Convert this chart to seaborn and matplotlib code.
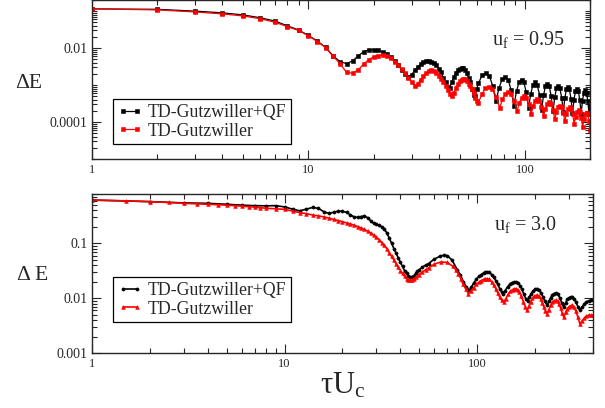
import numpy as np
import pandas as pd
import matplotlib
matplotlib.use('Agg')
import matplotlib.pyplot as plt
import seaborn as sns
from matplotlib.ticker import FixedLocator, FixedFormatter, LogLocator, NullFormatter

# ---- данные ----
# верхняя панель, u_f = 0.95
tau_top_qf = [1, 2, 3, 4, 5, 6, 7, 8, 9, 10, 11, 12, 13, 14, 15, 16, 17, 18, 19, 20,
              21, 22, 23, 24, 25, 26, 27, 28, 29, 30, 31, 32, 33, 34, 35, 36, 37, 38, 39, 40,
              41, 42, 43, 44, 45, 46, 47, 48, 49, 50, 51, 52, 53, 54, 55, 56, 57, 58, 59, 60,
              61, 63.5, 66, 68.5, 71, 73.5, 76, 78.5, 81, 83.7, 86.3, 89, 91.5, 94, 96.5,
              99, 101.5, 104, 106.5, 109, 111.5, 114, 117, 119.5, 122, 124.5, 127, 129.7,
              132.3, 135, 137.5, 140, 142.5, 145, 148, 150.5, 153, 155.5, 158, 160.7, 163.3,
              166, 168.7, 171.3, 174, 176.7, 179.3, 182, 184.7, 187.3, 190, 192.7, 195.3,
              198, 200]
dE_top_qf = [0.115, 0.112, 0.100, 0.090, 0.079, 0.066, 0.054, 0.040, 0.031, 0.022,
             0.0155, 0.0105, 0.0062, 0.0043, 0.0038, 0.0045, 0.0062, 0.0080, 0.0089, 0.0091,
             0.0087, 0.0079, 0.0071, 0.0057, 0.0045, 0.0034, 0.0026, 0.0020, 0.00167, 0.0019,
             0.0025, 0.0031, 0.0037, 0.0041, 0.0044, 0.0044, 0.0043, 0.0039, 0.0034, 0.0028,
             0.0022, 0.0016, 0.0012, 0.0009, 0.00085, 0.0012, 0.0017, 0.0021, 0.0025, 0.0028,
             0.0029, 0.0029, 0.0026, 0.0021, 0.0016, 0.0012, 0.0008, 0.00055, 0.0005, 0.0008,
             0.00111, 0.00185, 0.00214, 0.00179, 0.00096, 0.000365, 0.00084, 0.00144, 0.00167,
             0.0014, 0.00075, 0.00028, 0.00068, 0.0012, 0.00141,
             0.00118, 0.00064, 0.000242, 0.00058, 0.00102, 0.00119,
             0.001, 0.00055, 0.000218, 0.00053, 0.00094, 0.0011,
             0.00092, 0.0005, 0.000196, 0.00047, 0.00083, 0.00097,
             0.00082, 0.00046, 0.000184, 0.00044, 0.00076, 0.00089,
             0.00076, 0.00043, 0.000177, 0.0004, 0.00068, 0.00079,
             0.00068, 0.0004, 0.00017, 0.00038, 0.00062, 0.00072,
             0.00062, 0.00037, 0.000165, 0.00028]

tau_top_gw = [1, 2, 3, 4, 5, 6, 7, 8, 9, 10, 11, 12, 13, 14, 15, 16, 17, 18, 19, 20,
              21, 22, 23, 24, 25, 26, 27, 28, 29, 30, 31, 32, 33, 34, 35, 36, 37, 38, 39, 40,
              41, 42, 43, 44, 45, 46, 47, 48, 49, 50, 51, 52, 53, 54, 55, 56, 57, 58, 59, 60,
              61, 63.3, 65.7, 68, 70.8, 73.7, 76.5, 78.8, 81.2, 83.5, 86.3, 89.2, 92, 94.3,
              96.7, 99, 101.7, 104.3, 107, 109.3, 111.7, 114, 116.7, 119.3, 122, 124.5, 127,
              129.5, 132.2, 134.8, 137.5, 140, 142.5, 145, 147.7, 150.3, 153, 155.7, 158.3,
              161, 163.7, 166.3, 169, 171.7, 174.3, 177, 179.7, 182.3, 185, 187.7, 190.3,
              193, 195.3, 197.7, 200]
dE_top_gw = [0.115, 0.108, 0.095, 0.084, 0.074, 0.062, 0.050, 0.038, 0.030, 0.0215,
             0.015, 0.0103, 0.006, 0.0038, 0.0022, 0.0021, 0.0026, 0.0037, 0.0049, 0.0058,
             0.0063, 0.0064, 0.0061, 0.0054, 0.0043, 0.0034, 0.0027, 0.0021, 0.0016, 0.0012,
             0.00093, 0.0011, 0.0014, 0.0018, 0.0021, 0.0024, 0.0025, 0.0024, 0.0021, 0.0018,
             0.0015, 0.0012, 0.00095, 0.00075, 0.00058, 0.0005, 0.00062, 0.00085, 0.00106, 0.00125,
             0.0014, 0.00147, 0.00146, 0.0013, 0.0011, 0.00095, 0.0008, 0.00062, 0.00045, 0.00036,
             0.00033, 0.00057, 0.00081, 0.00089, 0.00078, 0.00049, 0.00024, 0.00041, 0.00058,
             0.00064, 0.00057, 0.00038, 0.000196, 0.00033, 0.00045, 0.0005, 0.00045, 0.0003,
             0.00016, 0.00027, 0.00037, 0.00041, 0.00037, 0.00026, 0.000144, 0.00023, 0.00031,
             0.00034, 0.00031, 0.00021, 0.00012, 0.00019, 0.00026, 0.00028, 0.00025, 0.00018,
             0.000105, 0.00017, 0.00023, 0.00025, 0.00023, 0.00016, 0.00009, 0.00014, 0.00019,
             0.00021, 0.00019, 0.00013, 0.000075, 0.00012, 0.000165, 0.00018, 0.00016, 0.00011,
             0.00006]

# нижняя панель, u_f = 3.0
tau_bot_qf = [1, 2, 3, 4, 5, 6, 7, 8, 9, 10, 11, 12, 13, 14, 15, 16, 17, 18, 19, 20,
              21, 22, 23, 24, 25, 26, 27, 28, 29, 30, 31, 32, 33, 34, 35, 36, 37, 38, 39, 40,
              41, 42, 43, 44, 45, 46, 47, 48, 49, 50,
              52, 54, 56, 60, 64, 67, 70, 74, 79, 82, 85, 88, 91, 93.5, 96, 99, 102, 105,
              108, 110.5, 113, 116, 119, 122, 125, 128, 131, 134, 137, 140, 144, 148, 152,
              155.5, 159, 163, 167, 171, 175, 179, 183, 187, 191, 195, 200, 205, 210, 215,
              220, 225, 231, 236, 241, 246, 251, 257, 263, 269, 275, 282, 288, 294, 300,
              306, 312, 319, 326, 334, 342, 350, 360, 370, 380, 390, 400]
dE_bot_qf = [0.62, 0.58, 0.55, 0.54, 0.52, 0.50, 0.49, 0.487, 0.49, 0.465,
             0.424, 0.394, 0.424, 0.455, 0.436, 0.38, 0.353, 0.37, 0.39, 0.385,
             0.37, 0.33, 0.306, 0.299, 0.31, 0.32, 0.295, 0.26, 0.232, 0.222,
             0.214, 0.2, 0.183, 0.155, 0.125, 0.1, 0.08, 0.066, 0.054, 0.045,
             0.038, 0.032, 0.0283, 0.026, 0.0245, 0.0245, 0.026, 0.0283, 0.031, 0.033,
             0.0373, 0.04, 0.043, 0.052, 0.058, 0.061, 0.06, 0.05, 0.033, 0.0263,
             0.02, 0.016, 0.014, 0.016, 0.019, 0.022, 0.025, 0.027, 0.029, 0.0298,
             0.0303, 0.0295, 0.027, 0.024, 0.021, 0.018, 0.015, 0.0132, 0.0122, 0.0138,
             0.0162, 0.018, 0.0193, 0.0198, 0.0199, 0.0188, 0.017, 0.0145, 0.0118, 0.0098,
             0.0089, 0.0105, 0.0122, 0.0135, 0.0146, 0.015, 0.0142, 0.0125, 0.0105, 0.0088,
             0.0074, 0.0088, 0.0102, 0.0115, 0.0122, 0.0125, 0.0117, 0.0101, 0.0083, 0.0068,
             0.0082, 0.0095, 0.0102, 0.0106, 0.0106, 0.0098, 0.0085, 0.007, 0.006, 0.0068,
             0.0078, 0.0086, 0.009, 0.0092, 0.0092]

tau_bot_gw = [1, 1.5, 2, 2.5, 3, 3.5, 4, 4.5, 5, 5.5, 6, 6.5, 7, 7.5, 8, 9, 10, 11, 12,
              13, 14, 15, 16, 17, 18, 19, 20, 21, 22, 23, 24, 25, 26, 27, 28, 29, 30, 31, 32,
              33, 34, 35, 36, 37, 38, 39, 40, 41, 42, 43, 44, 45, 46, 47, 48,
              50, 52, 54, 56, 60, 65, 70, 75, 77.5, 80, 82.5, 85, 87.5, 90, 93, 96, 99, 102,
              105, 108, 110.5, 113, 116, 119, 122, 125, 128, 131, 134.5, 138, 141, 145, 149,
              153, 156, 159, 162.5, 166, 170, 174, 178, 182, 186, 190, 194, 198, 201.5, 205,
              209, 213.5, 218, 222, 226.5, 231, 236, 241, 246, 251, 257, 262, 267, 272, 277,
              282, 288, 294, 300, 306, 312, 319, 326, 334, 342, 350, 360, 370, 380, 390, 400]
dE_bot_gw = [0.62, 0.60, 0.58, 0.56, 0.54, 0.53, 0.52, 0.51, 0.50, 0.49, 0.48, 0.47, 0.46,
             0.45, 0.44, 0.43, 0.42, 0.39, 0.365, 0.35, 0.33, 0.32, 0.305, 0.29, 0.275,
             0.262, 0.25, 0.238, 0.227, 0.215, 0.203, 0.192, 0.18, 0.168, 0.155, 0.142, 0.13,
             0.118, 0.104, 0.092, 0.08, 0.068, 0.058, 0.05, 0.043, 0.037, 0.032, 0.0285, 0.025,
             0.0228, 0.0218, 0.0213, 0.0215, 0.0225, 0.024,
             0.027, 0.0303, 0.033, 0.0358, 0.042, 0.046, 0.045, 0.038, 0.033, 0.028,
             0.0225, 0.018, 0.0145, 0.0122, 0.0135, 0.0155, 0.018, 0.0195, 0.021, 0.022,
             0.0226, 0.0229, 0.0222, 0.02, 0.0175, 0.015, 0.0125, 0.0105, 0.0092, 0.0086,
             0.0098, 0.0118, 0.0133, 0.0144, 0.0149, 0.015, 0.0143, 0.0128, 0.0108, 0.0087,
             0.007, 0.006, 0.0072, 0.0087, 0.0099, 0.0108, 0.0112, 0.0114, 0.0109, 0.0098,
             0.0083, 0.007, 0.0059, 0.0052, 0.0062, 0.0074, 0.0084, 0.009, 0.0092, 0.0088,
             0.0078, 0.0065, 0.0053, 0.0045, 0.0055, 0.0064, 0.007, 0.0073, 0.0074, 0.0068,
             0.0058, 0.0045, 0.0034, 0.0038, 0.0043, 0.0047, 0.0049, 0.0049, 0.0049]

label_qf = 'TD-Gutzwiller+QF'
label_gw = 'TD-Gutzwiller'

for t, v in [(tau_top_qf, dE_top_qf), (tau_top_gw, dE_top_gw),
             (tau_bot_qf, dE_bot_qf), (tau_bot_gw, dE_bot_gw)]:
    assert len(t) == len(v), (len(t), len(v))

# ---- оформление ----
sns.set_style('ticks', {'xtick.direction': 'in', 'ytick.direction': 'in'})
plt.rcParams['font.family'] = ['Liberation Serif', 'DejaVu Serif']
plt.rcParams['axes.linewidth'] = 1.0

fig = plt.figure(figsize=(6.05, 4.08), dpi=100)
ax1 = fig.add_axes([92 / 605, 1 - 159 / 408, 498 / 605, 159 / 408])
ax2 = fig.add_axes([92 / 605, 1 - 353 / 408, 501 / 605, 159 / 408])


def draw(ax, tau, val, color, marker, ms, lw, label):
    d = pd.DataFrame({'tau': tau, 'dE': val})
    sns.lineplot(data=d, x='tau', y='dE', ax=ax, color=color, marker=marker,
                 markersize=ms, markeredgecolor=color, markeredgewidth=0.4,
                 linewidth=lw, sort=False, estimator=None, label=label)


draw(ax1, tau_top_qf, dE_top_qf, 'black', 's', 2.2, 0.9, label_qf)
draw(ax1, tau_top_gw, dE_top_gw, 'red', 's', 2.2, 0.9, label_gw)
draw(ax2, tau_bot_qf, dE_bot_qf, 'black', 'o', 2.3, 1.2, label_qf)
draw(ax2, tau_bot_gw, dE_bot_gw, 'red', '^', 2.7, 1.2, label_gw)

for ax in (ax1, ax2):
    ax.set_xscale('log')
    ax.set_yscale('log')
    ax.set_xlabel('')
    ax.set_ylabel('')
    ax.xaxis.set_major_locator(FixedLocator([1, 10, 100]))
    ax.xaxis.set_major_formatter(FixedFormatter(['1', '10', '100']))
    ax.xaxis.set_minor_locator(LogLocator(base=10, subs=np.arange(2, 10), numticks=20))
    ax.xaxis.set_minor_formatter(NullFormatter())
    ax.yaxis.set_minor_locator(LogLocator(base=10, subs=np.arange(1, 10), numticks=20))
    ax.yaxis.set_minor_formatter(NullFormatter())
    ax.tick_params(which='both', direction='in', top=True, right=True, width=0.8)
    ax.tick_params(which='major', length=6.5)
    ax.tick_params(which='minor', length=3.3)
    ax.tick_params(axis='x', labelsize=9)
    ax.tick_params(axis='y', labelsize=10, pad=3)
    leg = ax.legend(loc='lower left', fontsize=12.8, frameon=True, fancybox=False,
                    edgecolor='black', framealpha=1, numpoints=2, handlelength=1.4,
                    handletextpad=0.3, borderpad=0.25, labelspacing=0.1, borderaxespad=0)
    leg.get_frame().set_linewidth(0.9)

ax1.set_xlim(1, 200)
ax1.set_ylim(1e-5, 0.2)
ax1.yaxis.set_major_locator(FixedLocator([1e-4, 1e-2]))
ax1.yaxis.set_major_formatter(FixedFormatter(['0.0001', '0.01']))
ax1.get_legend().set_bbox_to_anchor((0.042, 0.094), transform=ax1.transAxes)

ax2.set_xlim(1, 400)
ax2.set_ylim(1e-3, 0.8)
ax2.yaxis.set_major_locator(FixedLocator([1e-3, 1e-2, 1e-1]))
ax2.yaxis.set_major_formatter(FixedFormatter(['0.001', '0.01', '0.1']))
ax2.get_legend().set_bbox_to_anchor((0.042, 0.195), transform=ax2.transAxes)

ax1.text(0.95, 0.717, r'$\mathregular{u_f}$ = 0.95', transform=ax1.transAxes,
         ha='right', va='baseline', fontsize=14.5)
ax2.text(0.928, 0.774, r'$\mathregular{u_f}$ = 3.0', transform=ax2.transAxes,
         ha='right', va='baseline', fontsize=14.5)

fig.text(29 / 605, 1 - 83 / 408, 'ΔE', ha='center', va='center', fontsize=15.5)
fig.text(33 / 605, 1 - 275 / 408, 'Δ E', ha='center', va='center', fontsize=15.5)
fig.text(343 / 605, 1 - 393 / 408, r'$\mathregular{τU_c}$', ha='center', va='baseline',
         fontsize=22)

fig.savefig('out.png', dpi=100)
